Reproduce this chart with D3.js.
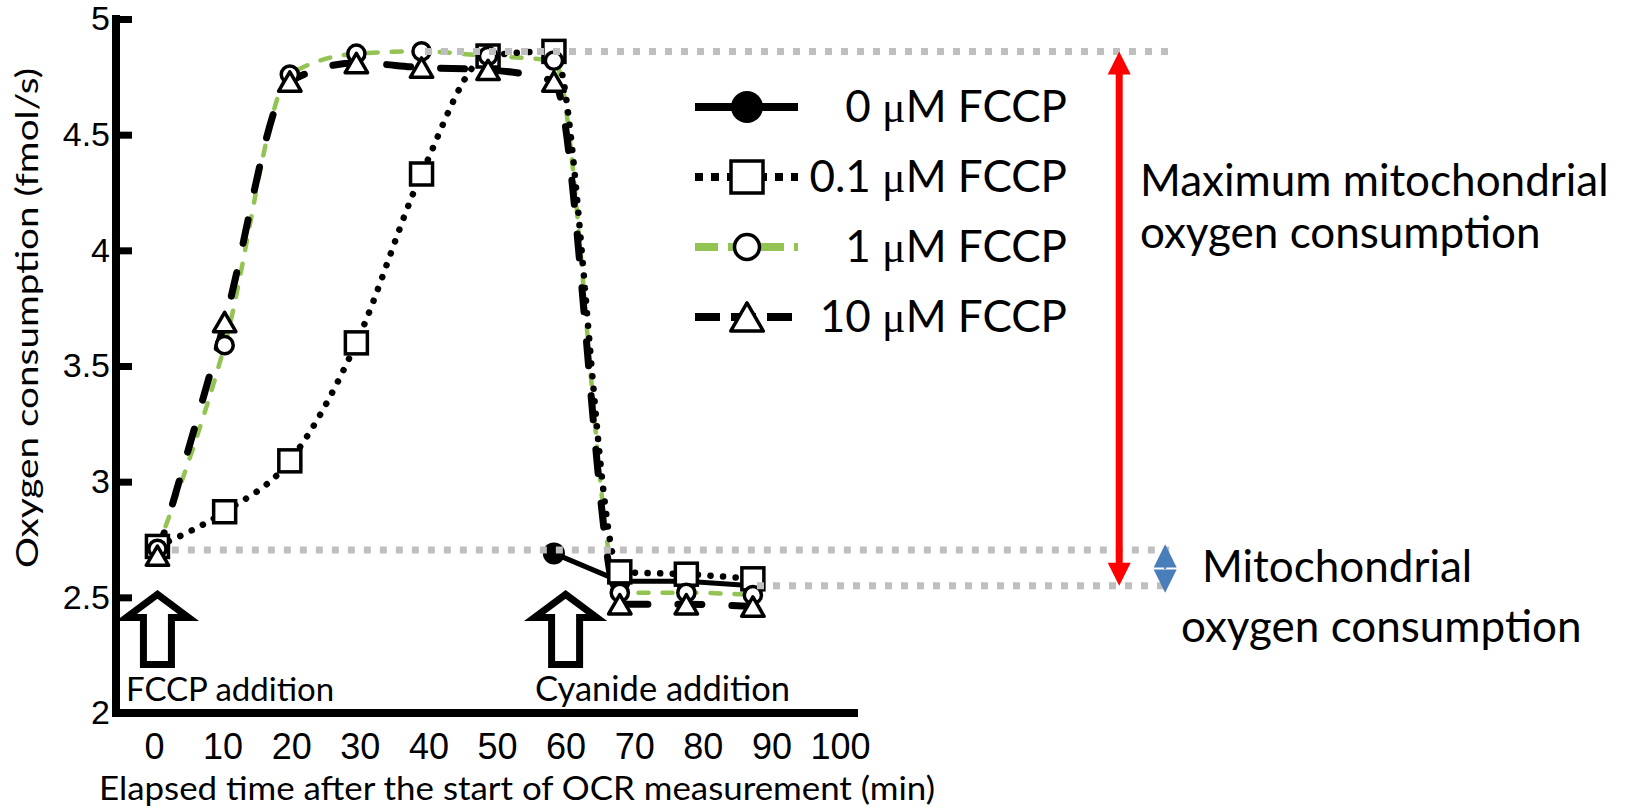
<!DOCTYPE html>
<html>
<head>
<meta charset="utf-8">
<script src="https://cdn.jsdelivr.net/npm/d3@7"></script>
<style>
  body { margin: 0; background: #fff; }
  svg { display: block; font-family: Lato, "Open Sans", sans-serif; }
</style>
</head>
<body>
<svg id="chart"></svg>
<script>
// Chart values
const times = [0.5, 10.3, 19.8, 29.5, 39, 48.7, 58.3, 67.9, 77.6, 87.3];
const fccp0 = [null, null, null, null, null, null, 2.69, 2.57, 2.57, 2.55];
const fccp01 = [2.72, 2.87, 3.09, 3.6, 4.33, 4.84, 4.86, 2.61, 2.6, 2.58];
const fccp1 = [2.71, 3.59, 4.76, 4.85, 4.86, 4.84, 4.82, 2.52, 2.52, 2.51];
const fccp10 = [2.68, 3.69, 4.73, 4.81, 4.79, 4.78, 4.73, 2.47, 2.47, 2.46];
const seriesLabels = ["0", "0.1", "1", "10"];
const xTicks = [0, 10, 20, 30, 40, 50, 60, 70, 80, 90, 100];
const yTicks = [2, 2.5, 3, 3.5, 4, 4.5, 5];

// dotted guide levels (max, baseline, cyanide level) and where they start
const guideLevels = [4.86, 2.705, 2.55];
const guideStarts = [39.5, 2.6, 87.9];
const guideEnd = 148;

const width = 1625;
const height = 810;

const svg = d3.select("#chart").attr("width", width).attr("height", height);

const x = d3.scaleLinear().domain([0, 100]).range([154, 840]);
const y = d3.scaleLinear().domain([2, 5]).range([713, 19]);

const green = "#92c353";

// one entry per series, drawn in this order
const series = [
  { label: seriesLabels[2], values: fccp1, marker: "circle", stroke: green, width: 4.5, dash: "10 14", cap: "round", curve: d3.curveMonotoneX },
  { label: seriesLabels[1], values: fccp01, marker: "square", stroke: "#000", width: 6.5, dash: "0.1 12.5", cap: "round", curve: d3.curveMonotoneX },
  { label: seriesLabels[3], values: fccp10, marker: "triangle", stroke: "#000", width: 7, dash: "24 30", cap: "round", curve: d3.curveMonotoneX },
  { label: seriesLabels[0], values: fccp0, marker: "dot", stroke: "#000", width: 5, dash: null, cap: "round", curve: d3.curveLinear },
];

function points(values) {
  return values
    .map((v, i) => ({ t: times[i], v: v }))
    .filter((d) => d.v !== null);
}

// ---- axes ----
svg.append("g")
  .attr("class", "y-axis")
  .attr("transform", "translate(116,0)")
  .call(d3.axisLeft(y).tickValues(yTicks).tickSize(-16).tickSizeOuter(0).tickPadding(6)
    .tickFormat((d) => d))
  .call((g) => g.select(".domain").remove())
  .call((g) => g.selectAll(".tick line").attr("stroke", "#000").attr("stroke-width", 7)
    .filter((d) => d === 2).remove())
  .call((g) => g.selectAll("text").attr("font-size", 34).attr("fill", "#000"));

svg.append("g")
  .attr("class", "x-axis")
  .attr("transform", "translate(0,713)")
  .call(d3.axisBottom(x).tickValues(xTicks).tickSize(0).tickPadding(20))
  .call((g) => g.select(".domain").remove())
  .call((g) => g.selectAll("text").attr("font-size", 36).attr("fill", "#000"));

// axis spines
svg.append("line")
  .attr("x1", 116).attr("x2", 116).attr("y1", y(5) - 4).attr("y2", y(2) + 4)
  .attr("stroke", "#000").attr("stroke-width", 8);
svg.append("line")
  .attr("x1", 112).attr("x2", 858).attr("y1", y(2)).attr("y2", y(2))
  .attr("stroke", "#000").attr("stroke-width", 8);

svg.append("text")
  .attr("x", 517).attr("y", 800)
  .attr("text-anchor", "middle")
  .attr("font-size", 33)
  .attr("textLength", 836)
  .attr("lengthAdjust", "spacingAndGlyphs")
  .text("Elapsed time after the start of OCR measurement (min)");

svg.append("text")
  .attr("transform", "translate(38,318) rotate(-90)")
  .attr("text-anchor", "middle")
  .attr("font-size", 30)
  .attr("textLength", 500)
  .attr("lengthAdjust", "spacingAndGlyphs")
  .text("Oxygen consumption (fmol/s)");

// ---- series lines ----
const line = (curve) => d3.line().x((d) => x(d.t)).y((d) => y(d.v)).curve(curve);

series.forEach((s) => {
  svg.append("path")
    .datum(points(s.values))
    .attr("fill", "none")
    .attr("stroke", s.stroke)
    .attr("stroke-width", s.width)
    .attr("stroke-dasharray", s.dash)
    .attr("stroke-linecap", s.cap)
    .attr("d", line(s.curve));
});

// ---- markers ----
function drawMarker(g, type, size) {
  if (type === "dot") {
    g.append("circle").attr("r", size * 0.5).attr("fill", "#000");
  } else if (type === "square") {
    g.append("rect")
      .attr("x", -size / 2).attr("y", -size / 2)
      .attr("width", size).attr("height", size)
      .attr("fill", "#fff").attr("stroke", "#000").attr("stroke-width", 3.5);
  } else if (type === "circle") {
    g.append("circle").attr("r", size * 0.39)
      .attr("fill", "#fff").attr("stroke", "#000").attr("stroke-width", 3.5);
  } else if (type === "triangle") {
    const w = size * 1.02;
    const h = size * 0.88;
    g.append("path")
      .attr("d", `M0,${-h / 2}L${w / 2},${h / 2}L${-w / 2},${h / 2}Z`)
      .attr("fill", "#fff").attr("stroke", "#000").attr("stroke-width", 3.5)
      .attr("stroke-linejoin", "round");
  }
}

["dot", "square", "circle", "triangle"].forEach((type) => {
  const s = series.find((d) => d.marker === type);
  svg.selectAll(null)
    .data(points(s.values))
    .enter()
    .append("g")
    .attr("transform", (d) => `translate(${x(d.t)},${y(d.v)})`)
    .each(function () { drawMarker(d3.select(this), type, 22); });
});

// ---- dotted guide lines ----
guideLevels.forEach((level, i) => {
  svg.append("line")
    .attr("x1", x(guideStarts[i])).attr("x2", x(guideEnd))
    .attr("y1", y(level)).attr("y2", y(level))
    .attr("stroke", "#bfbfbf")
    .attr("stroke-width", 7)
    .attr("stroke-dasharray", "7 9");
});

// ---- red double arrow (maximum) ----
const redX = x(140.7);
const rTop = y(guideLevels[0]);
const rBot = y(guideLevels[2]);
svg.append("path")
  .attr("d", `M${redX},${rTop}L${redX + 11.5},${rTop + 23}L${redX + 3.5},${rTop + 23}` +
    `L${redX + 3.5},${rBot - 23}L${redX + 11.5},${rBot - 23}L${redX},${rBot}` +
    `L${redX - 11.5},${rBot - 23}L${redX - 3.5},${rBot - 23}L${redX - 3.5},${rTop + 23}` +
    `L${redX - 11.5},${rTop + 23}Z`)
  .attr("fill", "#ff0000");

// ---- small blue double arrow (mitochondrial) ----
const blueX = x(147.4);
const bTop = y(2.73);
const bBot = y(2.52);
const bMid = (bTop + bBot) / 2;
svg.append("path")
  .attr("d", `M${blueX},${bTop}L${blueX + 11.5},${bMid - 1}L${blueX - 11.5},${bMid - 1}Z` +
    `M${blueX},${bBot}L${blueX + 11.5},${bMid + 1}L${blueX - 11.5},${bMid + 1}Z` +
    `M${blueX - 1},${bMid - 1.5}h2v3h-2Z`)
  .attr("fill", "#4a7ebb");

// ---- block arrows for additions ----
function blockArrow(cx, tip) {
  const hw = 31, sw = 14, hl = 23, len = 70;
  return `M${cx},${tip}L${cx + hw},${tip + hl}L${cx + sw},${tip + hl}L${cx + sw},${tip + len}` +
    `L${cx - sw},${tip + len}L${cx - sw},${tip + hl}L${cx - hw},${tip + hl}Z`;
}
[0.5, 60].forEach((t) => {
  svg.append("path")
    .attr("d", blockArrow(x(t), y(2.53) + 4))
    .attr("fill", "#fff")
    .attr("stroke", "#000")
    .attr("stroke-width", 7);
});

svg.append("text").attr("x", 126).attr("y", 701).attr("font-size", 33).text("FCCP addition");
svg.append("text").attr("x", 535).attr("y", 701).attr("font-size", 34.5).text("Cyanide addition");

// ---- legend ----
const legendRows = [
  { s: series[3], y: 107 },
  { s: series[1], y: 177 },
  { s: series[0], y: 247 },
  { s: series[2], y: 317 },
];
const legend = svg.append("g").attr("class", "legend");
legendRows.forEach((row) => {
  const g = legend.append("g").attr("transform", `translate(0,${row.y})`);
  g.append("line")
    .attr("x1", 695).attr("x2", 798)
    .attr("stroke", row.s.stroke)
    .attr("stroke-width", 8)
    .attr("stroke-dasharray", row.s.dash ? (row.s.marker === "square" ? "8 8" : row.s.marker === "circle" ? "23 10" : "25 11") : null)
    .attr("stroke-linecap", "butt");
  const m = g.append("g").attr("transform", "translate(747,0)");
  drawMarker(m, row.s.marker, 32);
  const txt = g.append("text")
    .attr("x", 1067).attr("y", 15)
    .attr("text-anchor", "end")
    .attr("font-size", 44);
  txt.append("tspan").text(row.s.label + " ");
  txt.append("tspan").attr("font-family", "'Liberation Serif', serif").text("\u03BC");
  txt.append("tspan").text("M FCCP");
});

// ---- annotations on the right ----
const notes = [
  { text: "Maximum mitochondrial", x: 1140, y: 196 },
  { text: "oxygen consumption", x: 1140, y: 248 },
  { text: "Mitochondrial", x: 1202, y: 582 },
  { text: "oxygen consumption", x: 1181, y: 642 },
];
svg.selectAll(".note")
  .data(notes)
  .enter()
  .append("text")
  .attr("class", "note")
  .attr("x", (d) => d.x)
  .attr("y", (d) => d.y)
  .attr("font-size", 44)
  .text((d) => d.text);
</script>
</body>
</html>
